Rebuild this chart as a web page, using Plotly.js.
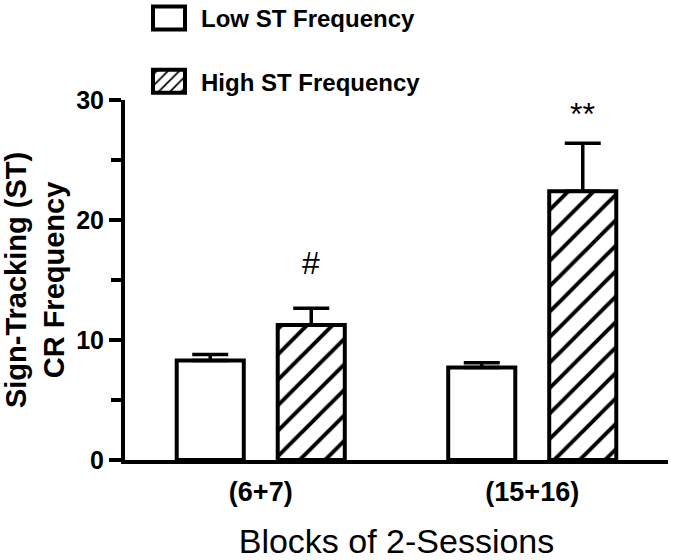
<!DOCTYPE html>
<html><head><meta charset="utf-8">
<script src="https://cdn.plot.ly/plotly-3.0.1.min.js"></script>
<style>html,body{margin:0;padding:0;background:#fff;} #chart{width:675px;height:560px;}</style>
</head><body><div id="chart"></div>
<script>
// ---- data ----
const categories = ['(6+7)', '(15+16)'];
const seriesNames = ['Low ST Frequency', 'High ST Frequency'];
const lowValues = [8.3, 7.7];
const lowErrors = [0.5, 0.4];
const highValues = [11.25, 22.4];
const highErrors = [1.4, 4.0];
const noLowerError = [0, 0];
const highMarks = ['#', '**'];
const yTickValues = [0, 10, 20, 30];
const yTickLabels = ['0', '10', '20', '30'];

// ---- styling ----
const FONT = '"Liberation Sans", Arial, Helvetica, sans-serif';
const bargap = 0.256, bargroupgap = 0.336;
const outline = {color: '#000', width: 4};
const errStyle = {color: '#000', thickness: 3.5, width: 18};

const traces = [
  {type: 'bar', name: seriesNames[0], x: categories, y: lowValues, legendgroup: 'low',
   marker: {color: '#fff', line: outline},
   error_y: Object.assign({type: 'data', symmetric: false, array: lowErrors, arrayminus: noLowerError}, errStyle),
   hoverinfo: 'skip'},
  {type: 'bar', name: seriesNames[1], x: categories, y: highValues, legendgroup: 'high',
   marker: {color: '#fff', line: outline,
            pattern: {shape: '/', size: 18, solidity: 0.22, fgcolor: '#000', bgcolor: '#fff', fillmode: 'replace'}},
   error_y: Object.assign({type: 'data', symmetric: false, array: highErrors, arrayminus: noLowerError}, errStyle),
   hoverinfo: 'skip'}
];

const slot = (1 - bargap) / 2;
const markShift = [25, 9];
const annotations = highMarks.map((m, i) => ({
  x: i + slot / 2, y: highValues[i] + highErrors[i], xref: 'x', yref: 'y',
  text: m, showarrow: false, xanchor: 'center', yanchor: 'bottom', yshift: markShift[i],
  font: {size: 32, family: FONT, color: '#000'}
}));

const plotL = 125, plotR = 668, plotT = 100, plotB = 460;
const pw = plotR - plotL, ph = plotB - plotT;

const layout = {
  width: 675, height: 560,
  margin: {l: plotL, r: 675 - plotR, t: plotT, b: 560 - plotB, autoexpand: false},
  paper_bgcolor: '#fff', plot_bgcolor: '#fff',
  barmode: 'group', bargap: bargap, bargroupgap: bargroupgap,
  font: {family: FONT, color: '#000'},
  showlegend: true,
  legend: {x: (137 - plotL) / pw, xanchor: 'left', y: (plotB + 4) / ph, yanchor: 'top',
           font: {size: 24, weight: 'bold', family: FONT, color: '#000'},
           itemwidth: 54, tracegroupgap: 29, bgcolor: 'rgba(0,0,0,0)', borderwidth: 0},
  xaxis: {type: 'category', range: [-0.5, 1.5], showline: true, linewidth: 4, linecolor: '#000',
          ticks: '', showgrid: false, zeroline: false, ticklabelstandoff: 5,
          tickfont: {size: 27, weight: 'bold', family: FONT, color: '#000'},
          title: {text: 'Blocks of 2-Sessions', font: {size: 34, family: FONT, color: '#000'}, standoff: 28}},
  yaxis: {range: [0, 30], tickmode: 'array', tickvals: yTickValues, ticktext: yTickLabels,
          ticks: 'outside', ticklen: 12, tickwidth: 4, tickcolor: '#000',
          showline: true, linewidth: 4, linecolor: '#000', showgrid: false, zeroline: false,
          tickfont: {size: 25, weight: 'bold', family: FONT, color: '#000'},
          minor: {dtick: 5, tick0: 0, ticks: 'outside', ticklen: 10, tickwidth: 4, tickcolor: '#000', showgrid: false},
          title: {text: 'Sign-Tracking (ST)<br>CR Frequency', font: {size: 29, weight: 'bold', family: FONT, color: '#000'}, standoff: 12}},
  annotations: annotations
};

Plotly.newPlot('chart', traces, layout, {staticPlot: true, displayModeBar: false}).then(gd => {
  gd.querySelectorAll('.legend .legendpoints path').forEach(p => {
    p.setAttribute('d', 'M16,11.5H-16V-11.5H16Z');
    p.style.strokeWidth = '4px';
  });
});
</script>
</body></html>
